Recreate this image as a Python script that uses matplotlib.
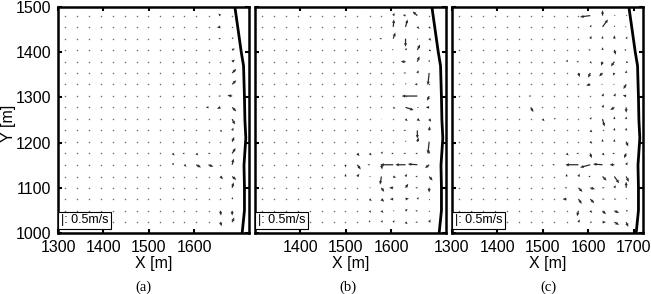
import numpy as np
import matplotlib
matplotlib.use('Agg')
import matplotlib.pyplot as plt

plt.rcParams['font.family'] = ['Liberation Sans', 'DejaVu Sans']

# grid of measurement points [m]
grid_x = [1315, 1341, 1368, 1394, 1420, 1447, 1473, 1499, 1525, 1552, 1578, 1604, 1631, 1657, 1683]
grid_y = [1024, 1049, 1075, 1100, 1125, 1151, 1176, 1202, 1227, 1252,
          1278, 1303, 1329, 1354, 1379, 1405, 1430, 1456, 1481]

# shoreline
coast_x = [1689, 1696, 1703, 1708, 1710, 1711, 1713, 1709, 1710, 1710, 1705]
coast_y = [1500, 1450, 1400, 1370, 1300, 1250, 1210, 1150, 1100, 1050, 1000]

# visible vectors: (column index, row index, u [m/s], v [m/s])
vec_a = [(13, 18, -0.15, 0.15), (13, 17, -0.25, -0.05), (13, 16, -0.15, 0.0), (14, 16, 0.1, 0.1),
         (14, 15, 0.2, 0.1), (14, 14, 0.2, 0.15), (14, 13, 0.3, 0.3), (14, 12, 0.3, 0.3),
         (14, 11, -0.35, 0.05), (13, 11, -0.15, 0.0), (14, 10, 0.3, -0.3), (12, 10, -0.2, 0.0),
         (13, 10, -0.25, -0.1), (14, 9, 0.2, -0.4), (13, 8, 0.15, -0.1), (14, 8, 0.1, 0.2),
         (14, 7, 0.15, 0.35), (9, 6, 0.15, -0.15), (10, 6, -0.15, 0.0), (11, 6, 0.15, -0.15),
         (12, 6, 0.15, 0.0), (14, 6, 0.25, 0.4), (9, 5, 0.1, 0.15), (10, 5, 0.15, -0.15),
         (11, 5, 0.35, -0.2), (12, 5, 0.35, -0.15), (14, 5, 0.1, 0.45), (13, 4, 0.2, -0.2),
         (14, 4, 0.3, -0.25), (14, 3, 0.1, 0.4), (14, 2, 0.05, 0.15), (13, 1, 0.05, -0.35),
         (14, 1, 0.0, -0.35), (13, 0, 0.1, -0.3), (14, 0, 0.15, 0.35)]

vec_b = [(11, 18, 0.1, 0.2), (12, 18, -0.2, 0.05), (13, 18, -0.35, 0.3),
         (11, 17, 0.05, 0.55), (12, 17, 0.15, 0.55), (13, 17, 0.15, -0.15), (14, 17, 0.1, -0.15),
         (10, 16, -0.15, 0.0), (11, 16, 0.15, 0.45), (12, 16, 0.0, -0.6), (13, 16, 0.05, -0.1),
         (14, 16, 0.15, -0.15), (11, 15, -0.1, 0.05), (12, 15, 0.1, 0.15), (13, 15, 0.2, 0.4),
         (14, 15, 0.15, -0.1), (12, 14, -0.35, 0.0), (13, 14, 0.15, 0.4), (14, 14, 0.0, 0.15),
         (12, 13, -0.15, 0.0), (13, 13, 0.1, 0.2), (14, 13, -0.1, -0.9), (13, 12, -0.2, 0.0),
         (12, 12, 0.05, 0.1), (13, 11, -1.15, 0.0), (14, 11, -0.15, -0.35), (12, 10, 0.6, -0.2),
         (11, 10, 0.15, -0.1), (14, 10, -0.25, 0.0), (13, 10, 0.1, -0.05), (12, 9, 0.15, -0.15),
         (13, 9, 0.2, -0.15), (14, 9, 0.15, -0.2), (10, 9, 0.05, 0.0), (13, 8, 0.0, -0.6),
         (14, 8, 0.05, 0.3), (12, 8, -0.15, 0.0), (13, 7, 0.1, 0.3), (14, 7, -0.1, -0.9),
         (12, 7, 0.05, 0.1), (8, 6, 0.15, -0.2), (9, 6, 0.15, -0.15), (10, 6, 0.1, 0.15),
         (11, 6, -0.15, 0.0), (12, 6, -0.15, 0.0), (13, 6, -0.15, 0.0), (14, 6, 0.0, 0.2),
         (7, 5, 0.0, -0.2), (8, 5, 0.25, -0.35), (9, 5, -0.15, 0.0), (10, 5, 0.05, -0.35),
         (11, 5, -0.95, 0.0), (12, 5, -0.75, 0.0), (13, 5, -0.7, 0.05), (14, 5, -0.3, -0.25),
         (7, 4, 0.0, 0.2), (8, 4, 0.15, 0.2), (9, 4, 0.1, 0.0), (10, 4, -0.1, -0.6),
         (11, 4, 0.2, -0.1), (12, 4, 0.1, 0.2), (13, 4, -0.15, 0.0), (14, 4, 0.25, -0.3),
         (9, 3, 0.1, 0.0), (10, 3, 0.2, -0.3), (11, 3, -0.3, 0.0), (12, 3, 0.2, 0.3),
         (13, 3, -0.15, 0.0), (14, 3, 0.0, -0.35), (9, 2, 0.15, -0.15), (10, 2, 0.2, -0.2),
         (11, 2, -0.25, 0.0), (12, 2, 0.25, 0.05), (13, 2, 0.1, 0.15), (14, 2, 0.05, -0.1),
         (9, 1, 0.1, -0.15), (10, 1, 0.15, -0.15), (11, 1, 0.1, 0.0), (12, 1, 0.15, 0.15),
         (13, 1, -0.15, 0.0), (14, 1, 0.05, -0.1), (9, 0, 0.0, 0.15), (10, 0, 0.1, 0.15),
         (11, 0, 0.1, 0.15), (12, 0, 0.15, -0.15), (13, 0, -0.15, 0.0), (14, 0, 0.1, 0.2)]

vec_c = [(11, 18, -0.75, -0.1), (12, 18, 0.0, 0.4), (13, 18, 0.1, 0.0), (14, 18, 0.1, 0.0),
         (11, 17, 0.1, 0.15), (12, 17, 0.4, 0.55), (13, 17, 0.05, 0.1), (14, 17, -0.1, 0.0),
         (11, 16, 0.1, 0.2), (12, 16, 0.0, 0.2), (13, 16, 0.0, 0.25), (14, 16, 0.1, 0.15),
         (11, 15, -0.15, 0.0), (12, 15, 0.0, 0.2), (13, 15, 0.1, -0.35), (14, 15, -0.15, 0.0),
         (9, 14, 0.1, 0.15), (10, 14, -0.15, 0.0), (11, 14, 0.1, -0.15), (12, 14, -0.1, -0.3),
         (13, 14, -0.25, -0.35), (14, 14, 0.15, -0.1), (10, 13, 0.1, -0.3), (11, 13, -0.15, -0.35),
         (12, 13, -0.25, -0.25), (13, 13, -0.1, -0.2), (14, 13, 0.0, 0.2), (11, 12, -0.3, -0.1),
         (12, 12, -0.1, 0.0), (13, 12, -0.1, 0.0), (14, 12, -0.2, -0.35), (6, 11, -0.15, 0.0),
         (12, 11, 0.1, 0.2), (13, 11, 0.1, 0.2), (14, 11, -0.25, 0.05), (6, 10, 0.2, -0.35),
         (12, 10, 0.1, 0.2), (13, 10, -0.3, -0.2), (14, 10, 0.0, -0.4), (7, 9, 0.15, -0.15),
         (8, 9, 0.1, 0.1), (11, 9, 0.1, 0.15), (12, 9, 0.15, -0.55), (13, 9, 0.0, 0.2),
         (14, 9, 0.0, 0.2), (11, 8, 0.15, -0.15), (13, 8, 0.0, 0.2), (14, 8, 0.0, 0.2),
         (11, 7, 0.15, -0.15), (12, 7, 0.0, 0.2), (13, 7, 0.0, 0.2), (14, 7, 0.15, -0.35),
         (9, 6, 0.15, -0.15), (10, 6, -0.15, 0.0), (11, 6, 0.1, -0.35), (12, 6, 0.15, -0.15),
         (13, 6, -0.15, 0.0), (14, 6, -0.15, -0.35), (8, 5, -0.15, 0.0), (10, 5, -0.95, 0.0),
         (11, 5, -0.75, -0.2), (12, 5, -0.7, 0.05), (13, 5, -0.35, 0.0), (14, 5, 0.1, 0.2),
         (9, 4, 0.0, 0.2), (10, 4, 0.1, 0.2), (11, 4, -0.15, 0.0), (12, 4, 0.3, -0.3),
         (13, 4, 0.35, -0.5), (14, 4, 0.2, -0.4), (9, 3, -0.15, 0.0), (10, 3, 0.3, -0.3),
         (11, 3, 0.35, -0.1), (12, 3, 0.15, 0.0), (13, 3, 0.1, 0.2), (14, 3, 0.0, 0.45),
         (9, 2, -0.3, 0.0), (10, 2, 0.25, -0.35), (11, 2, 0.3, -0.3), (12, 2, 0.15, 0.0),
         (13, 2, 0.15, 0.0), (14, 2, 0.05, 0.1), (10, 1, -0.1, -0.4), (11, 1, 0.15, -0.15),
         (12, 1, 0.25, -0.25), (13, 1, 0.35, -0.15), (14, 1, 0.15, 0.0), (10, 0, 0.1, 0.2),
         (11, 0, 0.15, 0.0), (12, 0, 0.25, 0.0), (13, 0, 0.35, -0.2), (14, 0, 0.15, -0.35)]

panels = [vec_a, vec_b, vec_c]
captions = ['(a)', '(b)', '(c)']
xtick_sets = [[1300, 1400, 1500, 1600], [1400, 1500, 1600], [1300, 1400, 1500, 1600, 1700]]

W, H = 651, 294
fig = plt.figure(figsize=(W / 100, H / 100), dpi=100)
lefts = [58, 255, 452]

for k, vecs in enumerate(panels):
    ax = fig.add_axes([lefts[k] / W, (H - 233) / H, 191 / W, 226 / H])

    used = set((c, r) for c, r, _, _ in vecs)
    dx = [grid_x[c] for c in range(len(grid_x)) for r in range(len(grid_y)) if (c, r) not in used]
    dy = [grid_y[r] for c in range(len(grid_x)) for r in range(len(grid_y)) if (c, r) not in used]
    ax.scatter(dx, dy, s=1.2, color='#6a6a6a', linewidths=0)

    qx = [grid_x[c] for c, r, u, v in vecs]
    qy = [grid_y[r] for c, r, u, v in vecs]
    qu = [u for c, r, u, v in vecs]
    qv = [v for c, r, u, v in vecs]
    ax.quiver(qx, qy, qu, qv, angles='xy', scale_units='xy', scale=1 / 30,
              color='#2a2a2a', width=0.0065, headwidth=2.6, headlength=3.0,
              headaxislength=2.7, minlength=0.5)

    ax.plot(coast_x, coast_y, color='black', lw=2)

    ax.set_xlim(1300, 1720)
    ax.set_ylim(1000, 1500)
    ax.set_xticks(xtick_sets[k])
    ax.set_yticks([1000, 1100, 1200, 1300, 1400, 1500])
    ax.tick_params(direction='in', length=3, width=1.5, top=True, right=True,
                   labelsize=11.5, pad=5)
    if k > 0:
        ax.set_yticklabels([])
    for sp in ax.spines.values():
        sp.set_linewidth(1.8)
    ax.set_xlabel('X [m]', fontsize=11.5, labelpad=1)

    ax.text(0.014, 0.03, '|: 0.5m/s', transform=ax.transAxes, fontsize=9,
            va='bottom', ha='left',
            bbox=dict(facecolor='white', edgecolor='black', linewidth=0.8,
                      boxstyle='square,pad=0.2'))

    cx = [143, 348, 548][k]
    fig.text(cx / W, 1 - 287 / H, captions[k], ha='center', va='center',
             fontsize=10.5, family='Liberation Serif')

fig.text(8 / W, 1 - 123 / H, 'Y [m]', rotation=90, ha='center', va='center', fontsize=11.5)

plt.savefig('out.png', dpi=100)
